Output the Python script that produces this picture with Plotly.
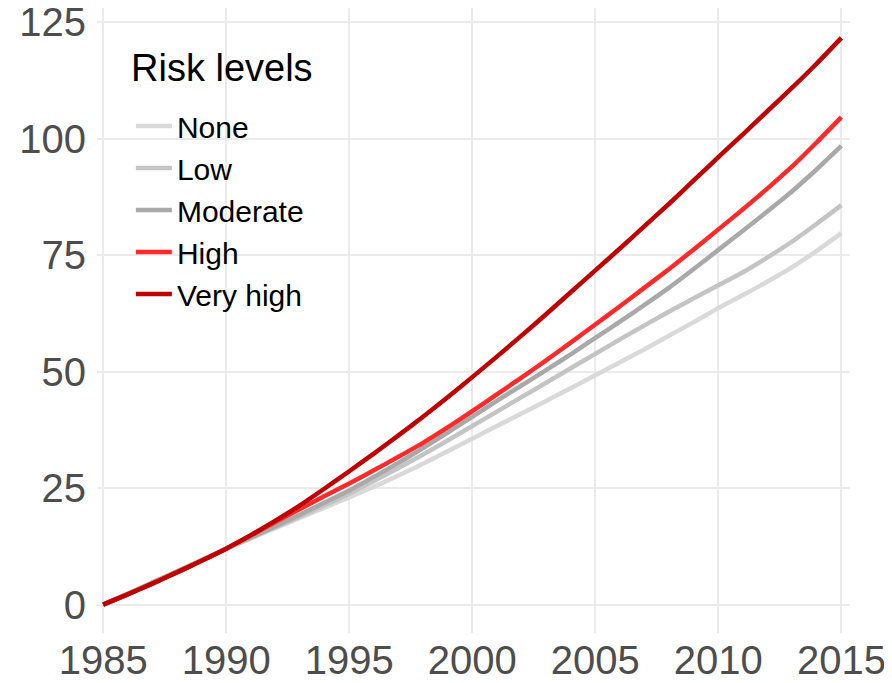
import plotly.graph_objects as go

years = list(range(1985, 2016))

risk_none = [0, 2.3, 4.7, 7.1, 9.5, 12.0, 14.2, 16.4, 18.6, 20.8, 23.0,
             25.3, 27.7, 30.2, 32.9, 35.6, 38.3, 41.0, 43.7, 46.4, 49.2,
             52.0, 54.8, 57.7, 60.6, 63.6, 66.4, 69.3, 72.4, 75.9, 79.7]
risk_low = [0, 2.3, 4.7, 7.1, 9.5, 12.0, 14.3, 16.6, 18.9, 21.3, 23.8,
            26.5, 29.3, 32.2, 35.2, 38.3, 41.4, 44.5, 47.6, 50.7, 53.8,
            56.9, 59.9, 62.9, 65.7, 68.5, 71.3, 74.5, 77.9, 81.7, 85.7]
risk_moderate = [0, 2.3, 4.7, 7.1, 9.5, 12.0, 14.4, 16.8, 19.3, 21.9, 24.5,
                 27.4, 30.4, 33.6, 36.9, 40.3, 43.7, 47.0, 50.3, 53.7, 57.2,
                 60.7, 64.3, 68.0, 72.0, 76.1, 80.2, 84.4, 88.7, 93.4, 98.4]
risk_high = [0, 2.2, 4.5, 6.9, 9.4, 12.0, 14.8, 17.7, 20.5, 23.3, 26.0,
             28.8, 31.7, 34.7, 38.0, 41.5, 45.1, 48.7, 52.4, 56.2, 60.1,
             64.0, 68.0, 72.0, 76.2, 80.5, 84.8, 89.3, 94.0, 99.2, 104.6]
risk_very_high = [0, 2.2, 4.5, 6.9, 9.4, 12.0, 14.9, 18.0, 21.3, 24.9, 28.6,
                  32.4, 36.3, 40.3, 44.5, 48.8, 53.2, 57.7, 62.3, 67.0, 71.7,
                  76.4, 81.2, 86.0, 91.0, 96.0, 100.9, 105.9, 110.9, 116.1, 121.6]

series_names = ["None", "Low", "Moderate", "High", "Very high"]
series_values = [risk_none, risk_low, risk_moderate, risk_high, risk_very_high]
series_colors = ["#D9D9D9", "#C4C4C4", "#A9A9A9", "#FF2B2B", "#BE0000"]

x_ticks = [1985, 1990, 1995, 2000, 2005, 2010, 2015]
y_ticks = [0, 25, 50, 75, 100, 125]
legend_title = "Risk levels"

fig = go.Figure()
for name, vals, col in zip(series_names, series_values, series_colors):
    fig.add_trace(go.Scatter(
        x=years, y=vals, name=name, mode="lines",
        line=dict(color=col, width=4.5, shape="spline", smoothing=0.6),
    ))

# the page adds an 8px body margin, so figure coords = screen coords - 8
fig.update_layout(
    width=884, height=675,
    margin=dict(l=89, r=42, t=0, b=50, autoexpand=False),
    plot_bgcolor="white", paper_bgcolor="white",
    font=dict(family="Liberation Sans, Arial, sans-serif"),
    showlegend=True,
    legend=dict(
        font=dict(size=30, color="black"),
        x=0.045, y=0.853, xanchor="left", yanchor="top",
        bgcolor="rgba(0,0,0,0)", itemwidth=36,
        tracegroupgap=0,
    ),
    annotations=[dict(
        text=legend_title, xref="paper", yref="paper",
        x=(129 - 97) / 753, y=(633 - 68) / 625,
        xanchor="left", yanchor="middle", showarrow=False,
        font=dict(size=38, color="black"),
    )],
)
fig.update_xaxes(
    range=[1984.75, 2015.35], tickvals=x_ticks, automargin=False,
    showgrid=True, gridcolor="#EBEBEB", gridwidth=2,
    zeroline=False, showline=False, ticks="",
    tickfont=dict(size=40, color="#4D4D4D"), ticklabelstandoff=0,
    ticklabeloverflow="allow",
)
fig.update_yaxes(
    range=[-6.1, 128.0], tickvals=y_ticks, automargin=False,
    showgrid=True, gridcolor="#EBEBEB", gridwidth=2,
    zeroline=False, showline=False, ticks="",
    tickfont=dict(size=40, color="#4D4D4D"), ticklabelstandoff=10,
    ticklabeloverflow="allow",
)

fig.write_html("out.html")
